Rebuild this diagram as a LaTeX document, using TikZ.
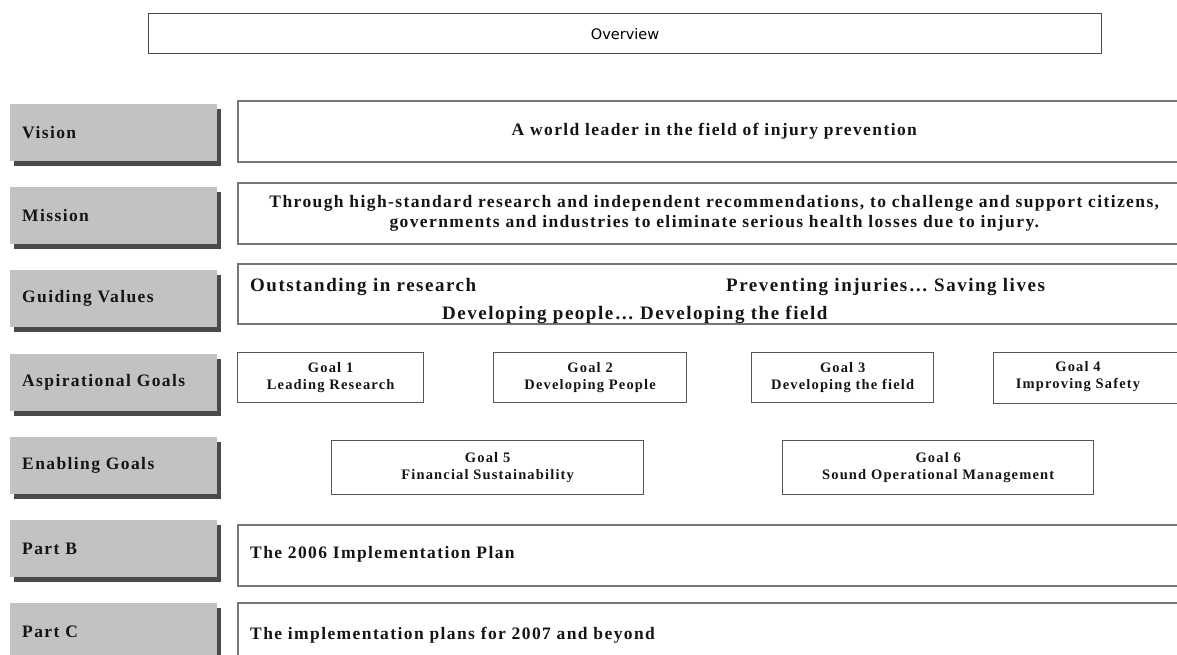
\documentclass[tikz,border=0pt]{standalone}
\usepackage{fontspec}
\setmainfont{Liberation Serif}
\newfontfamily\lsfont[LetterSpace=8]{Liberation Serif}
\newfontfamily\ovfont{DejaVu Sans}
\usetikzlibrary{shadows}
\definecolor{labelgray}{HTML}{C2C2C2}
\definecolor{shadowgray}{HTML}{4A4A4A}
\definecolor{boxline}{HTML}{767676}
\definecolor{goalline}{HTML}{555555}
\definecolor{txt}{HTML}{151515}
\tikzset{
  labelbox/.style={fill=labelgray, draw=none, anchor=north west,
    minimum width=207pt, minimum height=57pt, text width=183pt,
    align=left, inner xsep=12pt, inner ysep=0pt, text=txt,
    font=\lsfont\bfseries\fontsize{17.5}{20}\selectfont,
    general shadow={fill=shadowgray, shadow xshift=4pt, shadow yshift=-5pt}},
  rowbox/.style={draw=boxline, line width=1.6pt, fill=white, anchor=north west,
    minimum width=953pt, inner sep=0pt, text=txt, align=center,
    font=\lsfont\bfseries\fontsize{17.5}{19.5}\selectfont},
  goalbox/.style={draw=goalline, line width=1.3pt, fill=white, anchor=north west,
    inner sep=0pt, text=txt, align=center,
    font=\lsfont\bfseries\fontsize{14.5}{17}\selectfont},
  rowtext/.style={anchor=base west, inner sep=0pt, text=txt,
    font=\lsfont\bfseries\fontsize{17.5}{20}\selectfont},
  valtext/.style={rowtext, font=\lsfont\bfseries\fontsize{19}{22}\selectfont},
}
\begin{document}
\begin{tikzpicture}[x=1pt, y=-1pt]
\useasboundingbox (0,0) rectangle (1177,655);
\begin{scope}
\clip (0,0) rectangle (1177,655);
% Overview
\node[draw=shadowgray, line width=1.2pt, anchor=north west, minimum width=953pt,
  minimum height=40pt, inner sep=0pt, font=\ovfont\fontsize{14.5}{17}\selectfont, text=black]
  (overview) at (148,13) {Overview};

% left labels
\node[labelbox] (lvision) at (10,104) {Vision};
\node[labelbox] (lmission) at (10,187) {Mission};
\node[labelbox] (lvalues) at (10,270) {Guiding Values};
\node[labelbox] (laspir) at (10,354) {Aspirational Goals};
\node[labelbox] (lenab) at (10,437) {Enabling Goals};
\node[labelbox] (lpartb) at (10,520) {Part B};
\node[labelbox] (lpartc) at (10,603) {Part C};

% row boxes
\node[rowbox, minimum height=61pt] (vision) at (237,100) {A world leader in the field of injury prevention\vphantom{g}};
\node[rowbox, minimum height=61pt] (mission) at (237,182)
  {Through high-standard research and independent recommendations, to challenge and support citizens,\\
   governments and industries to eliminate serious health losses due to injury.};
\node[rowbox, minimum height=60pt] (values) at (237,263) {};
\node[valtext] (v1) at (250,291) {Outstanding in research};
\node[valtext] (v2) at (726,291) {Preventing injuries\ldots{} Saving lives};
\node[valtext] (v3) at (442,319) {Developing people\ldots{} Developing the field};

% aspirational goals
\node[goalbox, minimum width=186pt, minimum height=50pt] (g1) at (237,352) {Goal 1\\Leading Research};
\node[goalbox, minimum width=193pt, minimum height=50pt] (g2) at (493,352) {Goal 2\\Developing People};
\node[goalbox, minimum width=182pt, minimum height=50pt] (g3) at (751,352) {Goal 3\\Developing the field};
\node[goalbox, minimum width=200pt, minimum height=51pt] (g4) at (993,352) {};
\node[goalbox, draw=none, fill=none, anchor=center] (g4t) at (1078,377) {Goal 4\\Improving Safety};

% enabling goals
\node[goalbox, minimum width=312pt, minimum height=54pt] (g5) at (331,440) {Goal 5\\Financial Sustainability};
\node[goalbox, minimum width=311pt, minimum height=54pt] (g6) at (782,440) {Goal 6\\Sound Operational Management};

% parts
\node[rowbox, minimum height=61pt] (partb) at (237,524) {};
\node[rowtext] (pbt) at (250,558) {The 2006 Implementation Plan};
\node[rowbox, minimum height=70pt] (partc) at (237,602) {};
\node[rowtext] (pct) at (250,639) {The implementation plans for 2007 and beyond};
\end{scope}
\end{tikzpicture}
\end{document}
